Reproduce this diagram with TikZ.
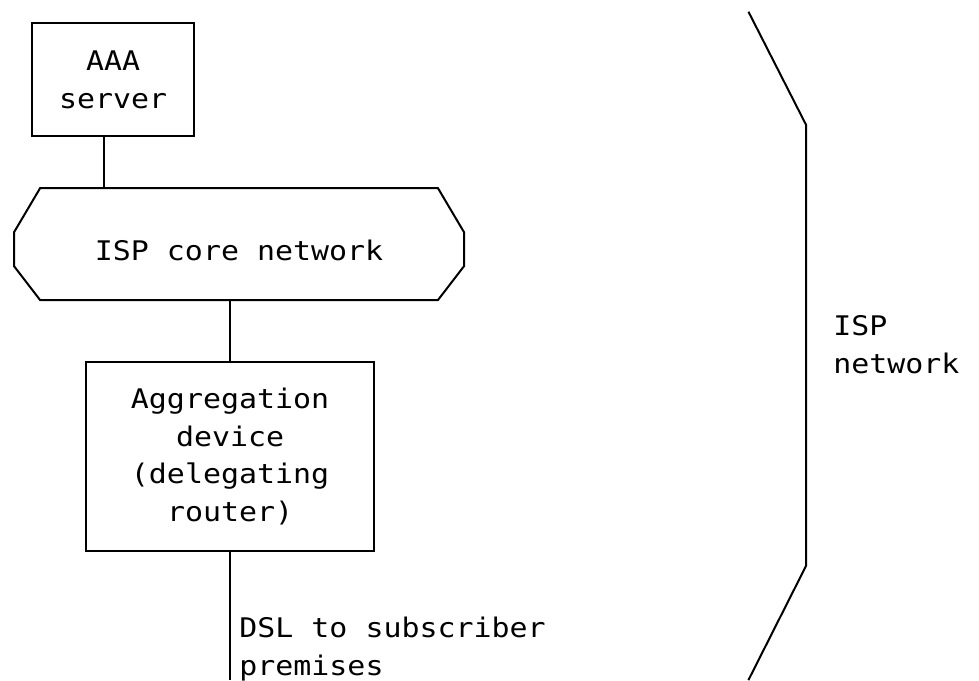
\documentclass[tikz,border=0pt]{standalone}
\usepackage{fontspec}
\newfontfamily\asciifont{DejaVu Sans Mono}[FakeStretch=1.108]
\begin{document}
\begin{tikzpicture}[x=9pt,y=-18.85pt,
	wire/.style={line width=1pt},
	box/.style={draw,line width=1pt,inner sep=0pt,align=center,font=\asciifont\fontsize{13.5pt}{18.85pt}\selectfont},
	lbl/.style={inner sep=0pt,anchor=base west,font=\asciifont\fontsize{13.5pt}{18.85pt}\selectfont}]
		% Fix the frame
		\useasboundingbox (0.22,0.39) rectangle (54.61,18.43);
		
		% Draw boxes
		\node[box,minimum width=81pt,minimum height=56.55pt] (aaa) at (6.5,2.5) {AAA\\server};
		\node[box,minimum width=144pt,minimum height=94.25pt] (agg) at (13,12.5) {Aggregation\\device\\(delegating\\router)};
		
		% Draw core network
		\coordinate (coreN) at (6,5.38);
		\coordinate (coreS) at (13,8.35);
		\draw[wire] (2.45,5.38) -- (24.55,5.38) -- (26,6.55) -- (26,7.45) -- (24.55,8.35) -- (2.45,8.35) -- (1,7.45) -- (1,6.55) -- cycle;
		\node[lbl,anchor=base] (core) at (13.5,7.3) {ISP core network};
		
		% Draw links
		\coordinate (dslEnd) at (13,18.43);
		\draw[wire] (aaa.south -| coreN) -- (coreN);
		\draw[wire] (coreS) -- (agg.north);
		\draw[wire] (agg.south) -- (dslEnd);
		\node[lbl] (dsl) at (13.5,17.3) {DSL to subscriber};
		\node[lbl] (prem) at (13.5,18.3) {premises};
		
		% Draw ISP network bracket
		\draw[wire] (41.8,0.7) -- (45,3.7) -- (45,15.4) -- (41.8,18.43);
		\node[lbl] (isp) at (46.5,9.3) {ISP};
		\node[lbl] (ispnet) at (46.5,10.3) {network};
		
	\end{tikzpicture}
\end{document}
